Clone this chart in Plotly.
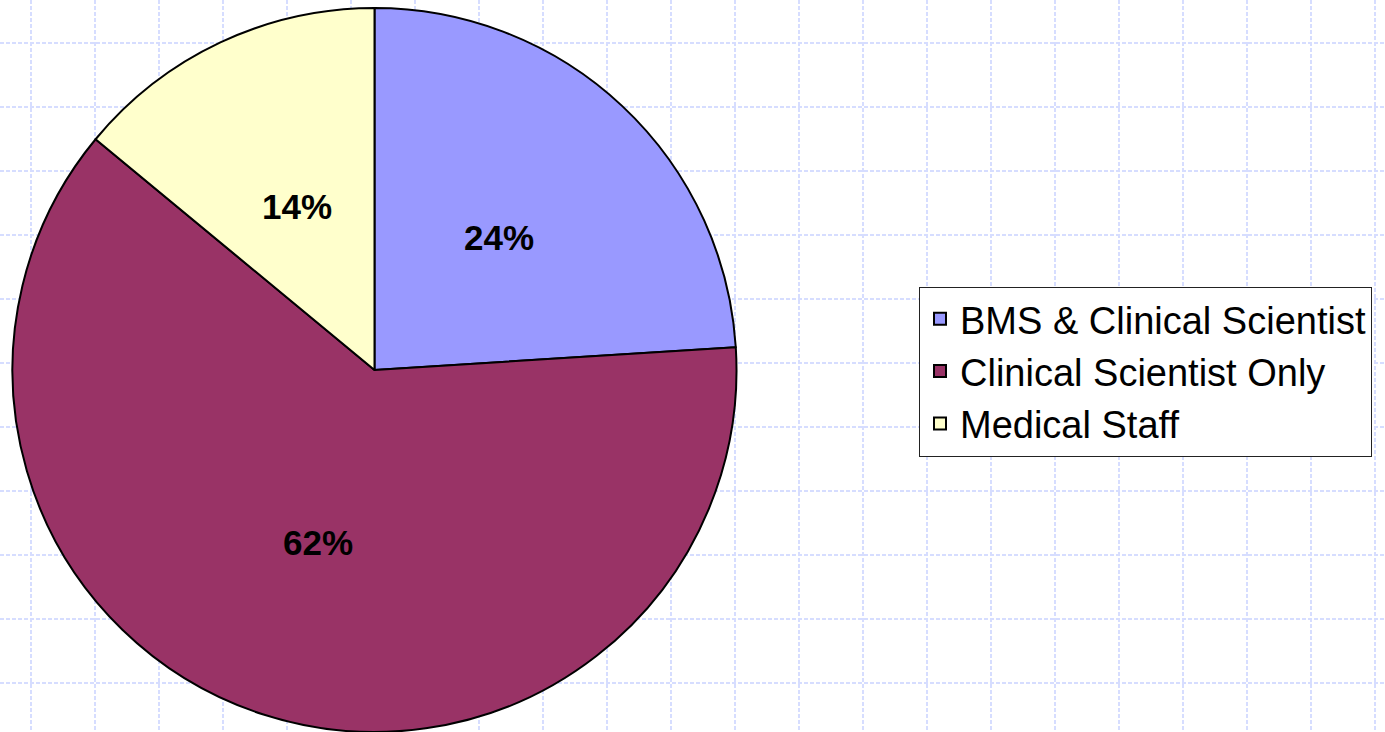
import math
import plotly.graph_objects as go

categories = ["BMS & Clinical Scientist", "Clinical Scientist Only", "Medical Staff"]
values = [24, 62, 14]
colors = ["#9999ff", "#993366", "#ffffcc"]

W, H = 1385, 732
# pie geometry in pixels
PX0, PX1, PY0, PY1 = 12, 737, 8, 732
cx, cy = (PX0 + PX1) / 2, (PY0 + PY1) / 2
R = (PX1 - PX0) / 2

fig = go.Figure()
fig.add_trace(go.Scatter(x=[None], y=[None], showlegend=False, hoverinfo="skip"))
fig.add_trace(go.Pie(
    labels=categories, values=values, sort=False, direction="clockwise", rotation=0,
    marker=dict(colors=colors, line=dict(color="black", width=2)),
    textinfo="none",
    domain=dict(x=[PX0 / W, PX1 / W], y=[(H - PY1) / H, (H - PY0) / H]),
    showlegend=True,
))

# percentage labels at half radius along each slice's mid-angle
total = sum(values)
cum = 0
annotations = []
for v in values:
    mid = (cum + v / 2) / total * 2 * math.pi
    cum += v
    px = cx + 0.5 * R * math.sin(mid)
    py = cy - 0.5 * R * math.cos(mid)
    annotations.append(dict(
        x=px / W, y=1 - py / H, xref="paper", yref="paper", showarrow=False,
        text="<b>%d%%</b>" % round(100 * v / total),
        font=dict(family="Liberation Sans, Arial", size=35, color="black"),
        xanchor="center", yanchor="middle",
    ))

grid = dict(showgrid=True, griddash="4px,2px", gridcolor="rgb(214,221,255)", gridwidth=1.5,
            zeroline=False, showticklabels=False, showline=False, ticks="", fixedrange=True)

fig.update_layout(
    width=W, height=H,
    margin=dict(l=0, r=0, t=0, b=0),
    paper_bgcolor="white", plot_bgcolor="white",
    xaxis=dict(range=[0, W], tick0=31, dtick=64, **grid),
    yaxis=dict(range=[H, 0], tick0=43, dtick=64, **grid),
    legend=dict(x=919 / W, y=1 - 371.5 / H, xanchor="left", yanchor="middle",
                bordercolor="#222222", borderwidth=1, bgcolor="white",
                font=dict(family="Liberation Sans, Arial", size=38, color="black")),
    annotations=annotations,
    showlegend=True,
)

fig.write_html("out.html", config={"displayModeBar": False},
               post_script="document.body.style.margin='0px';")
